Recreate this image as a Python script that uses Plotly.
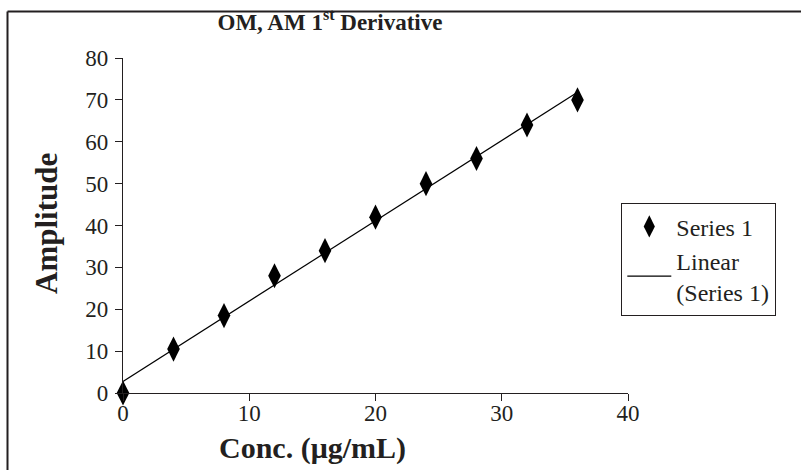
import numpy as np
import plotly.graph_objects as go

conc = [0, 4, 8, 12, 16, 20, 24, 28, 32, 36]
amplitude = [0, 10.5, 18.5, 28, 34, 42, 50, 56, 64, 70]
x_ticks = [0, 10, 20, 30, 40]
y_ticks = [0, 10, 20, 30, 40, 50, 60, 70, 80]

slope, intercept = np.polyfit(conc, amplitude, 1)
fit_x = [min(conc), max(conc)]
fit_y = [slope * v + intercept for v in fit_x]

W, H = 801, 470
L, R, T, B = 123, 173, 58, 77
pw, ph = W - L - R, H - T - B

def px(x):
    return (x - L) / pw

def py(y):
    return (H - B - y) / ph

TXT = "#231f20"
FONT = "Liberation Serif, Times New Roman, serif"

fig = go.Figure()
fig.add_trace(go.Scatter(
    x=conc, y=amplitude, mode="markers", name="Series 1",
    marker=dict(symbol="diamond-tall", size=18, color="black"),
    cliponaxis=False,
))
fig.add_trace(go.Scatter(
    x=fit_x, y=fit_y, mode="lines", name="Linear<br>(Series 1)",
    line=dict(color="black", width=1.2),
))

fig.update_layout(
    width=W, height=H,
    margin=dict(l=L, r=R, t=T, b=B, pad=0),
    paper_bgcolor="white", plot_bgcolor="white",
    font=dict(family=FONT, size=22, color=TXT),
    showlegend=True,
    legend=dict(
        x=px(621), y=py(203), xanchor="left", yanchor="top",
        bordercolor=TXT, borderwidth=1.3, bgcolor="white",
        font=dict(family=FONT, size=24, color=TXT),
        tracegroupgap=0, itemwidth=44,
    ),
    title=dict(
        text="<b>OM, AM 1<sup>st</sup> Derivative</b>",
        x=330 / W, xanchor="center", xref="container",
        y=1 - 22 / H, yanchor="middle",
        font=dict(family=FONT, size=23, color=TXT),
    ),
    xaxis=dict(
        range=[0, 40], tickvals=x_ticks, ticktext=[str(v) for v in x_ticks],
        showgrid=False, zeroline=False, showline=True, linecolor=TXT, linewidth=1.3,
        ticks="outside", ticklen=7, tickwidth=1.3, tickcolor=TXT,
        tickfont=dict(family=FONT, size=23, color=TXT),
        ticklabelstandoff=-8,
    ),
    yaxis=dict(
        range=[0, 80], tickvals=y_ticks, ticktext=[str(v) for v in y_ticks],
        showgrid=False, zeroline=False, showline=True, linecolor=TXT, linewidth=1.3,
        ticks="outside", ticklen=7, tickwidth=1.3, tickcolor=TXT,
        tickfont=dict(family=FONT, size=23, color=TXT),
        ticklabelstandoff=2,
    ),
    annotations=[
        dict(text="<b>Conc. (μg/mL)</b>", x=px(312), y=py(448), xref="paper", yref="paper",
             xanchor="center", yanchor="middle", showarrow=False,
             font=dict(family=FONT, size=30, color=TXT)),
        dict(text="<b>Amplitude</b>", x=px(46), y=py(224), xref="paper", yref="paper",
             xanchor="center", yanchor="middle", showarrow=False, textangle=-90,
             font=dict(family=FONT, size=31, color=TXT)),
    ],
    shapes=[
        dict(type="line", xref="paper", yref="paper", x0=px(7.5), x1=px(801), y0=py(11.5), y1=py(11.5),
             line=dict(color=TXT, width=2)),
        dict(type="line", xref="paper", yref="paper", x0=px(7.5), x1=px(7.5), y0=py(11.5), y1=py(470),
             line=dict(color=TXT, width=2)),
    ],
)

fig.write_html("out.html", config={"displayModeBar": False},
               post_script="document.body.style.margin='0';")
